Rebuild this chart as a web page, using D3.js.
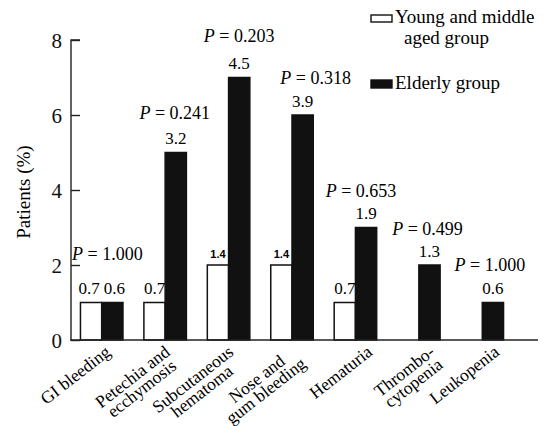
<!DOCTYPE html>
<html>
<head>
<meta charset="utf-8">
<script src="https://cdn.jsdelivr.net/npm/d3@7"></script>
<style>
  body { margin: 0; background: #fff; }
</style>
</head>
<body>
<div id="chart"></div>
<script>
// values
const categories = [
  ["GI bleeding"],
  ["Petechia and", "ecchymosis"],
  ["Subcutaneous", "hematoma"],
  ["Nose and", "gum bleeding"],
  ["Hematuria"],
  ["Thrombo-", "cytopenia"],
  ["Leukopenia"]
];
const youngCounts = [1, 1, 2, 2, 1, 0, 0];
const elderlyCounts = [1, 5, 7, 6, 3, 2, 1];
const youngPct = ["0.7", "0.7", "1.4", "1.4", "0.7", null, null];
const elderlyPct = ["0.6", "3.2", "4.5", "3.9", "1.9", "1.3", "0.6"];
const pValues = ["1.000", "0.241", "0.203", "0.318", "0.653", "0.499", "1.000"];
const yTicks = [0, 2, 4, 6, 8];

// layout tweaks (hand placed in the original)
const pDx = [-5, -1, 0, 13, -5, -2, -3];
const pDy = [-34, -25, -27, -23, -22, -22, -23];
const labelDx = [10, 6, 6, 6, 18, 17, 18];
const boldSmall = [false, false, true, true, false, false, false];

const serif = "Liberation Serif";
const width = 546, height = 426;
const svg = d3.select("#chart").append("svg")
    .attr("width", width)
    .attr("height", height)
    .attr("font-family", serif);

const x0 = d3.scaleBand()
    .domain(d3.range(categories.length))
    .range([70, 514])
    .paddingInner(0.33)
    .paddingOuter(0.165);
const x1 = d3.scaleBand()
    .domain(["young", "elderly"])
    .range([0, x0.bandwidth()]);
const y = d3.scaleLinear().domain([0, 8]).range([340, 40]);

// y axis
const yAxis = svg.append("g")
    .attr("transform", "translate(71,0)")
    .call(d3.axisRight(y).tickValues(yTicks).tickSize(9).tickFormat(d3.format("d")));
yAxis.attr("font-family", serif).attr("font-size", 21);
yAxis.select(".domain").attr("d", `M9,${y(8)}H0V${y(0)}`).attr("stroke", "#222").attr("stroke-width", 1.4);
yAxis.selectAll(".tick line").attr("stroke", "#222").attr("stroke-width", 1.4);
yAxis.selectAll(".tick text")
    .attr("x", -9)
    .attr("dy", "0.35em")
    .attr("text-anchor", "end")
    .attr("fill", "#111");

svg.append("text")
    .attr("transform", "translate(30,192) rotate(-90)")
    .attr("text-anchor", "middle")
    .attr("font-size", 19)
    .text("Patients (%)");

// bars
const groups = svg.selectAll("g.grp")
    .data(categories)
    .enter().append("g")
    .attr("class", "grp")
    .attr("transform", (d, i) => `translate(${x0(i)},0)`);

groups.filter((d, i) => youngCounts[i] > 0).append("rect")
    .attr("x", x1("young"))
    .attr("y", d => y(youngCounts[categories.indexOf(d)]))
    .attr("width", x1.bandwidth())
    .attr("height", d => y(0) - y(youngCounts[categories.indexOf(d)]))
    .attr("fill", "#fff")
    .attr("stroke", "#111")
    .attr("stroke-width", 1.5);

groups.append("rect")
    .attr("x", x1("elderly"))
    .attr("y", (d, i) => y(elderlyCounts[i]))
    .attr("width", x1.bandwidth())
    .attr("height", (d, i) => y(0) - y(elderlyCounts[i]))
    .attr("fill", "#111")
    .attr("stroke", "#111")
    .attr("stroke-width", 1.5);

// x axis line
svg.append("line")
    .attr("x1", 70).attr("x2", 538)
    .attr("y1", y(0)).attr("y2", y(0))
    .attr("stroke", "#222").attr("stroke-width", 1.4);

// percentage labels
groups.each(function(d, i) {
  const g = d3.select(this);
  // labels that sit at the same height get pushed apart a little
  const sameRow = youngPct[i] && youngCounts[i] === elderlyCounts[i];
  if (youngPct[i]) {
    const t = g.append("text")
        .attr("x", x1("young") + x1.bandwidth() / 2 - (sameRow ? 2 : 0))
        .attr("y", y(youngCounts[i]) - (boldSmall[i] ? 7 : 8.5))
        .attr("text-anchor", "middle")
        .text(youngPct[i]);
    if (boldSmall[i]) {
      t.attr("font-family", "Liberation Sans")
       .attr("font-weight", "bold").attr("font-size", 11);
    } else {
      t.attr("font-size", 17);
    }
  }
  const ey = y(elderlyCounts[i]) - 8.5;
  g.append("text")
      .attr("x", x1("elderly") + x1.bandwidth() / 2 + (sameRow ? 2 : 0))
      .attr("y", ey)
      .attr("text-anchor", "middle")
      .attr("font-size", 17)
      .text(elderlyPct[i]);
  const p = g.append("text")
      .attr("x", x1("elderly") + x1.bandwidth() / 2 + pDx[i])
      .attr("y", ey + pDy[i])
      .attr("text-anchor", "middle")
      .attr("font-size", 18);
  p.append("tspan").attr("font-style", "italic").text("P");
  p.append("tspan").text(" = " + pValues[i]);
});

// rotated category labels
categories.forEach((lines, i) => {
  const cx = x0(i) + x0.bandwidth() / 2 + labelDx[i];
  const g = svg.append("g")
      .attr("transform", `translate(${cx},354) rotate(-38)`);
  const texts = lines.map((ln, k) => g.append("text")
      .attr("y", k * 15)
      .attr("font-size", 17.5)
      .text(ln));
  const lens = texts.map(t => t.node().getComputedTextLength());
  const maxLen = d3.max(lens);
  texts.forEach((t, k) => {
    t.attr("x", -(maxLen - lens[k]) / 2).attr("text-anchor", "end");
  });
});

// legend
const legend = svg.append("g").attr("font-size", 19);
legend.append("rect")
    .attr("x", 371).attr("y", 15).attr("width", 21).attr("height", 7)
    .attr("fill", "#fff").attr("stroke", "#111").attr("stroke-width", 1.4);
legend.append("text").attr("x", 395).attr("y", 23).text("Young and middle");
legend.append("text").attr("x", 404).attr("y", 44).text("aged group");
legend.append("rect")
    .attr("x", 371).attr("y", 80).attr("width", 21).attr("height", 8)
    .attr("fill", "#111").attr("stroke", "#111").attr("stroke-width", 1.4);
legend.append("text").attr("x", 395).attr("y", 89).text("Elderly group");
</script>
</body>
</html>
